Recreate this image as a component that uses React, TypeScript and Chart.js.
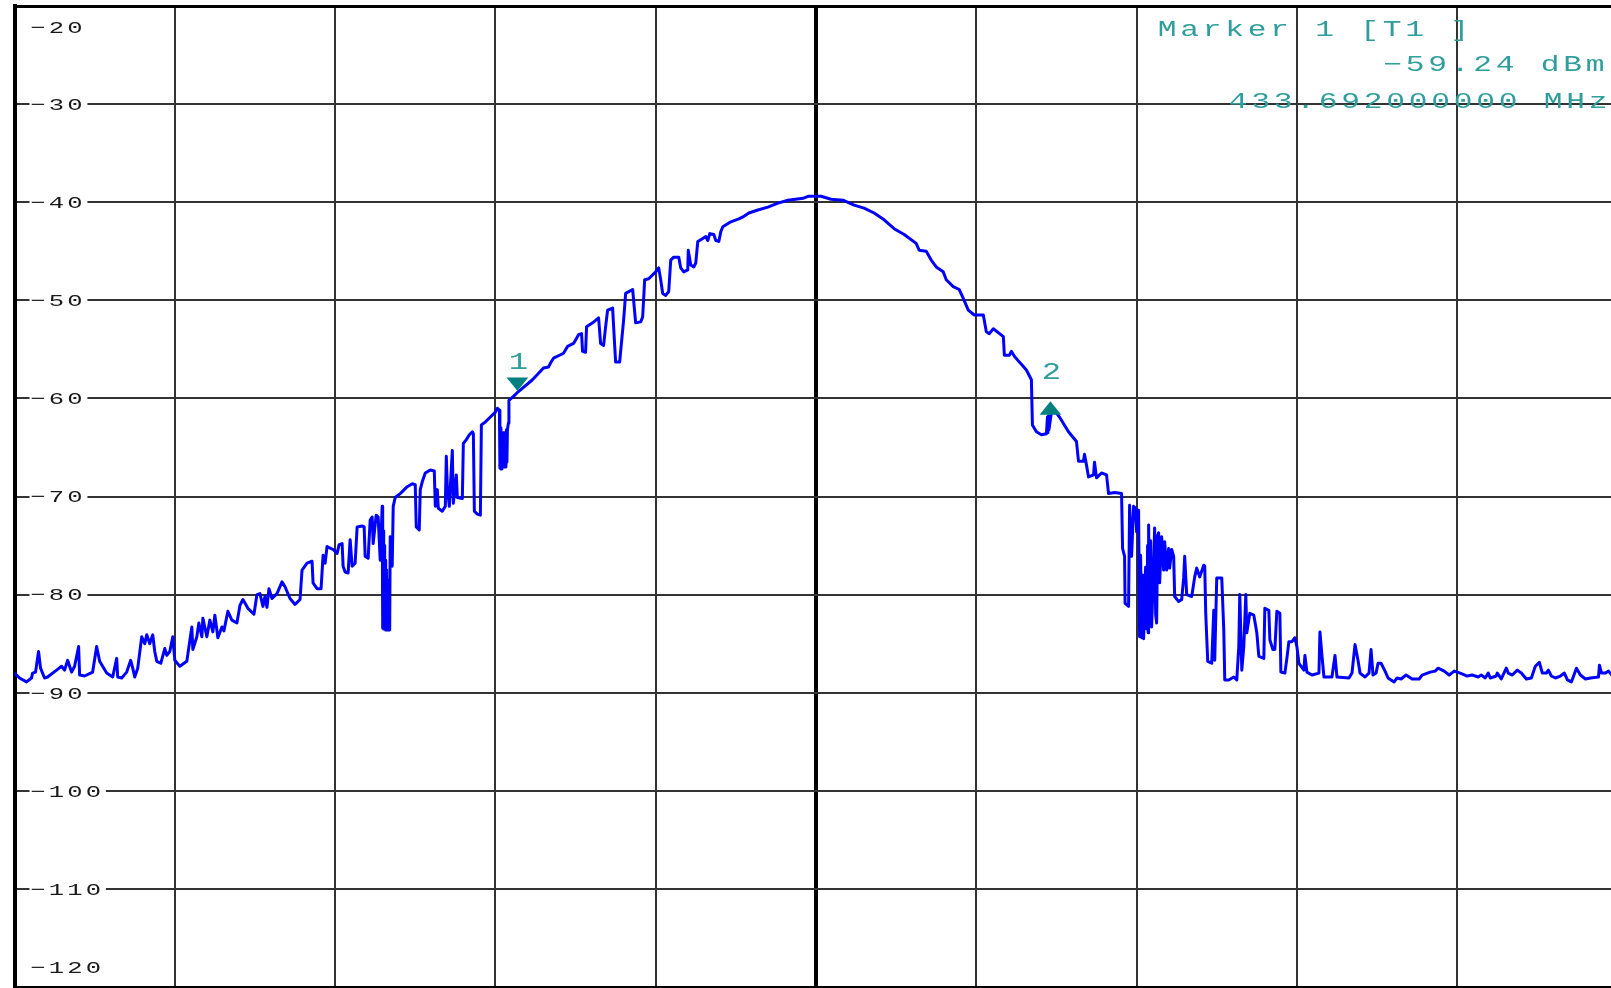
import { useEffect, useRef } from 'react';
import { Chart, registerables } from 'chart.js';

Chart.register(...registerables);

// ---- sweep settings ----
const CENTER_MHZ = 433.99;
const SPAN_KHZ = 1600;
const DIV_KHZ = 160;
const REF_LEVEL_DBM = -20;
const BOTTOM_LEVEL_DBM = -120;
const LEVEL_STEP_DB = 10;
const LEVEL_TICKS = [-20, -30, -40, -50, -60, -70, -80, -90, -100, -110, -120];

// ---- trace: [offset from centre in kHz, level in dBm] ----
const traceNoiseLeft: [number, number][] = [
  [-800, -88.0], [-795, -88.5], [-788, -88.9], [-783, -88.5], [-782, -88.0], [-779, -87.9], [-776, -85.8], [-774, -87.5],
  [-770, -88.5], [-767, -88.4], [-758, -87.7], [-753, -87.3], [-750, -87.7], [-747, -86.7], [-743, -87.9], [-740, -87.3],
  [-736, -85.3], [-735, -88.2], [-730, -88.3], [-722, -87.9], [-718, -85.3], [-715, -86.8], [-708, -88.0], [-702, -88.4],
  [-698, -86.5], [-697, -88.4], [-693, -88.5], [-688, -87.9], [-684, -86.7], [-682, -87.5], [-680, -88.4], [-677, -87.5],
  [-673, -84.3], [-670, -85.0], [-668, -84.1], [-665, -85.0], [-662, -84.1], [-660, -85.8], [-658, -86.8], [-654, -87.0],
  [-650, -85.5], [-648, -86.2], [-645, -85.8], [-642, -84.3], [-640, -86.7], [-635, -87.3], [-628, -86.8], [-623, -83.3],
  [-622, -85.6], [-618, -84.3], [-616, -82.9], [-613, -84.3], [-612, -82.4], [-608, -84.3], [-605, -82.6], [-602, -83.8],
  [-600, -82.1], [-597, -84.4], [-593, -83.3], [-591, -83.7], [-587, -81.7], [-583, -82.6], [-578, -82.9], [-575, -81.1],
  [-572, -80.5], [-567, -81.4], [-561, -82.0], [-558, -80.0], [-555, -79.9], [-552, -81.2], [-550, -80.2], [-548, -81.3],
  [-546, -79.4], [-543, -80.4], [-538, -79.9], [-533, -78.7], [-530, -79.2], [-525, -80.4], [-520, -81.0], [-515, -80.5],
];

const traceRisingEdge: [number, number][] = [
  [-513, -77.5], [-508, -76.8], [-503, -76.6], [-502, -78.8], [-498, -79.4], [-494, -79.4], [-492, -76.0], [-490, -76.8],
  [-488, -75.1], [-482, -75.4], [-478, -75.8], [-476, -74.9], [-473, -74.8], [-472, -77.1], [-470, -77.7], [-467, -77.8],
  [-465, -74.4], [-463, -77.1], [-460, -76.8], [-458, -73.1], [-453, -73.0], [-451, -73.1], [-450, -76.1], [-447, -76.3],
  [-445, -72.4], [-443, -72.1], [-442, -74.8], [-439, -71.9], [-437, -72.1], [-435, -76.5], [-433, -71.0], [-432.5, -83.4],
  [-432, -73.5], [-431.5, -83.5], [-431, -75.0], [-430.5, -83.5], [-430, -76.5], [-429.5, -83.6], [-429, -77.5],
  [-428.5, -83.6], [-428, -78.5], [-427.5, -83.6], [-427, -79.5], [-426.5, -83.6], [-426, -80.0], [-425.5, -83.6],
  [-425, -74.1], [-423, -77.1],
  [-422, -71.0], [-420, -70.1], [-415, -69.7], [-408, -69.0], [-403, -68.7], [-400, -68.8], [-399, -73.1], [-396, -73.4],
  [-395, -69.3], [-393, -68.5], [-390, -67.6], [-385, -67.3], [-381, -67.4], [-380, -71.0], [-378, -69.3], [-377, -71.2],
  [-373, -71.5], [-370, -71.0], [-369, -65.9], [-368, -69.0], [-366, -71.0], [-363, -65.3], [-362, -70.7], [-359, -67.8],
  [-358, -70.1], [-353, -70.2], [-352, -64.6], [-349, -64.2], [-346, -63.7], [-343, -63.4], [-342, -63.6], [-341, -71.5],
  [-338, -71.8], [-335, -71.9], [-334, -62.7], [-330, -62.4], [-325, -61.9], [-320, -61.4], [-318, -61.0], [-316, -61.2],
  [-315.5, -67.1], [-315, -63.0], [-314.5, -67.2], [-314, -63.5], [-313.5, -67.2], [-313, -63.9], [-312.5, -67.0],
  [-312, -63.5], [-311.5, -67.0], [-311, -63.5], [-310.5, -67.0], [-310, -63.5], [-309.5, -67.0], [-309, -63.2],
  [-308.5, -66.5], [-308, -63.2], [-307, -62.5], [-306.5, -60.2], [-302, -59.8], [-297, -59.3],
];

const tracePeak: [number, number][] = [
  [-283, -58.1], [-272, -56.9], [-267, -56.8], [-265, -56.4], [-262, -55.9], [-256, -55.6], [-252, -55.4], [-248, -54.7],
  [-242, -54.4], [-237, -53.5], [-234, -53.4], [-233, -55.2], [-230, -55.3], [-229, -52.7], [-223, -52.3], [-217, -51.8],
  [-215, -54.4], [-212, -54.6], [-210, -52.7], [-208, -51.0], [-203, -50.8], [-202, -52.7], [-200, -56.3], [-196, -56.3],
  [-192, -52.0], [-190, -49.3], [-183, -48.9], [-180, -52.3], [-175, -52.2], [-173, -51.7], [-171, -47.9], [-167, -47.8],
  [-160, -47.1], [-157, -46.7], [-155, -47.9], [-153, -49.3], [-150, -49.5], [-147, -49.1], [-145, -45.9], [-142, -45.6],
  [-137, -45.6], [-135, -46.7], [-132, -47.1], [-128, -46.9], [-127.5, -44.9], [-125, -46.4], [-122, -46.6], [-120, -46.2],
  [-118, -44.0], [-113, -43.7], [-110, -43.5], [-108, -43.9], [-106, -43.2], [-102, -43.3], [-100, -43.9], [-97, -44.0],
  [-95, -43.0], [-93, -42.5], [-85, -42.0], [-77, -41.7], [-73, -41.5], [-67, -41.1], [-58, -40.8], [-48, -40.5],
  [-38, -40.1], [-28, -39.8], [-13, -39.6], [-8, -39.4], [5, -39.4], [15, -39.7], [27, -39.8], [38, -40.3],
  [48, -40.6], [58, -41.1], [68, -41.8], [78, -42.7], [88, -43.3], [100, -44.2], [103, -44.9], [110, -45.0],
  [115, -45.9], [120, -46.6], [127, -47.1], [130, -47.9], [137, -48.6], [143, -48.9], [147, -49.8], [152, -51.0],
  [158, -51.5], [167, -51.5], [170, -53.2], [173, -53.4], [177, -52.9], [187, -53.7], [188, -55.6], [193, -55.6],
  [195, -55.2], [198, -55.7], [203, -56.3], [210, -57.1], [215, -58.1], [216, -62.7], [220, -63.4], [225, -63.7],
  [230, -63.6], [231, -61.9], [231.5, -63.5], [232, -61.8], [232.5, -63.2], [235, -61.4], [240, -61.5], [243, -61.9],
  [252, -63.4], [260, -64.4], [262, -66.4],
  [267, -66.4], [268, -65.7], [270, -66.8], [272, -68.0], [277, -67.8], [278, -66.5], [280, -68.1], [285, -67.6],
  [290, -67.8], [292, -69.7], [298, -69.6], [305, -69.7],
];

const traceFallingSpurs: [number, number][] = [
  [306, -75.3], [308, -76.1], [308.5, -80.9], [312, -81.2], [313, -70.9], [315, -76.1], [317, -71.0], [319, -71.2],
  [320, -73.6], [322, -71.4], [323, -84.3], [324, -76.0], [325, -84.4], [326, -78.0], [327, -84.5], [329, -77.2],
  [330, -83.5], [331, -75.0], [331.5, -83.9], [332, -72.9], [333, -83.0], [334, -74.5], [335, -83.3],
  [337, -77.1], [338, -73.2], [339, -82.0], [340, -82.9], [341, -74.0], [342, -73.7], [343, -78.8], [345, -74.1], [347, -77.5], [348, -74.6],
  [350, -77.5], [352, -75.3], [353, -77.3], [355, -75.4], [357, -76.1], [358, -80.2], [362, -80.7], [365, -80.5],
  [367, -78.3], [368, -76.1], [370, -80.0], [375, -80.2], [378, -78.2], [380, -77.3], [383, -78.2], [387, -77.0],
  [388, -77.1], [389, -81.9], [391, -86.8], [395, -87.0], [397, -81.6], [398, -86.7], [400, -78.3], [405, -78.3],
  [407, -83.6], [408, -88.7], [412, -88.7], [417, -88.4], [420, -88.7], [422, -85.3], [423, -80.0], [425, -87.7],
  [427, -85.3], [429, -80.0], [430, -83.9], [433, -81.9], [437, -82.1], [440, -83.9], [442, -86.3], [447, -86.5],
  [448, -81.4], [452, -81.6], [453, -84.6], [456, -85.6], [458, -85.6], [460, -81.7], [463, -81.9], [464, -87.9],
  [468, -88.0], [470, -86.5], [472, -84.8], [475, -84.8], [478, -84.4], [480, -85.3], [482, -87.0], [487, -87.7],
  [488, -86.2], [490, -87.9], [495, -88.2], [502, -88.0], [503, -83.8], [505, -86.2], [507, -88.4], [515, -88.4],
  [518, -86.2], [520, -88.4],
];

const traceNoiseRight: [number, number][] = [
  [532, -88.5], [535, -88.0], [538, -85.1], [541, -86.7], [543, -88.0], [548, -88.4], [552, -88.0], [554, -85.6],
  [556, -88.2], [559, -88.0], [561, -87.0], [564, -87.0], [568, -87.8], [571, -88.5], [577, -88.9], [580, -88.5],
  [584, -88.6], [589, -88.2], [595, -88.6], [602, -88.6], [605, -88.2], [613, -87.9], [618, -87.8], [621, -87.5],
  [627, -87.8], [632, -88.2], [637, -87.8], [643, -88.0], [650, -88.3], [655, -88.2], [661, -88.4], [664, -88.2],
  [668, -88.5], [671, -88.0], [673, -88.5], [679, -88.3], [680, -88.0], [684, -88.6], [689, -87.5], [691, -88.0],
  [695, -88.2], [700, -87.7], [704, -88.0], [709, -88.6], [714, -88.5], [718, -87.3], [722, -86.9], [725, -88.0],
  [729, -88.0], [731, -87.7], [734, -88.3], [738, -88.5], [743, -88.3], [747, -88.0], [750, -88.7], [754, -88.9],
  [759, -87.5], [763, -88.2], [768, -88.6], [773, -88.5], [781, -88.4], [782, -87.2], [784, -88.0], [788, -88.0],
  [791, -87.8], [796, -88.4], [800, -88.3],
];

// ---- markers ----
const markerNames = ['1', '2'];
const markerFreqMHz = [433.692, 434.224];
const markerLevelDbm = [-59.24, -60.3];
const markerPointing = ['down', 'up'];
const markerReadout = ['Marker 1 [T1 ]', '-59.24 dBm', '433.692000000 MHz'];

const TRACE_COLOR = '#0000ff';
const MARKER_FILL = '#008080';
const MARKER_TEXT = '#2f9e9c';
const GRID_COLOR = '#333333';
const LABEL_COLOR = '#1a1a1a';
const MONO = '"Liberation Mono", "DejaVu Sans Mono", monospace';

function drawMono(
  ctx: CanvasRenderingContext2D,
  text: string,
  firstCenterX: number,
  baselineY: number,
  pitch: number,
  scaleX: number,
) {
  for (let i = 0; i < text.length; i++) {
    const c = text[i];
    if (c === ' ') continue;
    const ch = c === '-' ? '\u2212' : c;
    ctx.save();
    ctx.translate(firstCenterX + i * pitch, baselineY);
    ctx.scale(scaleX, 1);
    ctx.fillText(ch, 0, 0);
    ctx.restore();
  }
}

const levelLabelsPlugin = {
  id: 'levelLabels',
  beforeDatasetsDraw(chart: any) {
    const ctx: CanvasRenderingContext2D = chart.ctx;
    const y = chart.scales.y;
    const left = chart.chartArea.left;
    const pitch = 18.5;
    const firstCenter = left + 23.4;
    ctx.save();
    ctx.font = `17px ${MONO}`;
    ctx.textAlign = 'center';
    ctx.textBaseline = 'alphabetic';
    LEVEL_TICKS.forEach((v) => {
      const py = y.getPixelForValue(v);
      const text = String(v);
      let baseline: number;
      if (v === REF_LEVEL_DBM) {
        baseline = py + 27.3;
      } else if (v === BOTTOM_LEVEL_DBM) {
        baseline = py - 13.7;
      } else {
        baseline = py + 5.8;
        const x0 = left + 15;
        const x1 = firstCenter + (text.length - 1) * pitch + 12.5;
        ctx.fillStyle = '#ffffff';
        ctx.fillRect(x0, py - 7, x1 - x0, 14);
      }
      ctx.fillStyle = LABEL_COLOR;
      drawMono(ctx, text, firstCenter, baseline, pitch, 1.5);
    });
    ctx.restore();
  },
};

const markersPlugin = {
  id: 'markers',
  afterDatasetsDraw(chart: any) {
    const ctx: CanvasRenderingContext2D = chart.ctx;
    const xs = chart.scales.x;
    const ys = chart.scales.y;
    ctx.save();
    markerNames.forEach((name, i) => {
      const px = xs.getPixelForValue((markerFreqMHz[i] - CENTER_MHZ) * 1000);
      const py = ys.getPixelForValue(markerLevelDbm[i]);
      const dir = markerPointing[i] === 'down' ? -1 : 1;
      ctx.fillStyle = MARKER_FILL;
      ctx.beginPath();
      ctx.moveTo(px, py);
      ctx.lineTo(px - 10.8, py + dir * 13.4);
      ctx.lineTo(px + 10.8, py + dir * 13.4);
      ctx.closePath();
      ctx.fill();
      ctx.fillStyle = MARKER_TEXT;
      ctx.font = `23px ${MONO}`;
      ctx.textAlign = 'center';
      ctx.textBaseline = 'alphabetic';
      drawMono(ctx, name, px + 1, py - 22, 22, 1.4);
    });

    // marker readout, top right
    const top = chart.chartArea.top;
    ctx.fillStyle = MARKER_TEXT;
    ctx.font = `22px ${MONO}`;
    ctx.textAlign = 'center';
    const rowCenters = [1167, 1392.5, 1238];
    const rowBaselines = [top + 30, top + 64.5, top + 101.5];
    markerReadout.forEach((row, r) => {
      drawMono(ctx, row, rowCenters[r], rowBaselines[r], 22.5, 1.42);
    });
    ctx.restore();
  },
};

export default function App() {
  const canvasRef = useRef<HTMLCanvasElement>(null);

  useEffect(() => {
    const canvas = canvasRef.current;
    if (!canvas) return;
    const all = [
      ...traceNoiseLeft,
      ...traceRisingEdge,
      ...tracePeak,
      ...traceFallingSpurs,
      ...traceNoiseRight,
    ];
    const data = all.map(([k, l]) => ({ x: k, y: l }));

    const chart = new Chart(canvas, {
      type: 'line',
      data: {
        datasets: [
          {
            data,
            borderColor: TRACE_COLOR,
            borderWidth: 3,
            borderJoinStyle: 'round',
            pointRadius: 0,
            tension: 0,
            fill: false,
          },
        ],
      },
      options: {
        animation: false,
        responsive: true,
        maintainAspectRatio: false,
        events: [],
        layout: { padding: { left: 14.5, right: 22.5, top: 6, bottom: 1 } },
        plugins: {
          legend: { display: false },
          tooltip: { enabled: false },
        },
        scales: {
          x: {
            type: 'linear',
            min: -SPAN_KHZ / 2,
            max: SPAN_KHZ / 2,
            ticks: { display: false, stepSize: DIV_KHZ },
            grid: {
              drawTicks: false,
              color: (c: any) => (c.tick && c.tick.value === 0 ? '#000000' : GRID_COLOR),
              lineWidth: (c: any) => {
                const v = c.tick ? c.tick.value : 1;
                if (v === 0) return 4;
                if (v === -SPAN_KHZ / 2 || v === SPAN_KHZ / 2) return 0;
                return 2;
              },
            },
            border: { display: false },
            afterFit: (s: any) => {
              s.height = 0;
            },
          },
          y: {
            type: 'linear',
            min: BOTTOM_LEVEL_DBM,
            max: REF_LEVEL_DBM,
            ticks: { display: false, stepSize: LEVEL_STEP_DB },
            grid: {
              drawTicks: false,
              color: (c: any) => {
                const v = c.tick ? c.tick.value : 0;
                return v === REF_LEVEL_DBM || v === BOTTOM_LEVEL_DBM ? '#000000' : GRID_COLOR;
              },
              lineWidth: (c: any) => {
                const v = c.tick ? c.tick.value : 0;
                return v === REF_LEVEL_DBM || v === BOTTOM_LEVEL_DBM ? 3 : 2;
              },
            },
            border: { display: true, color: '#000000', width: 4 },
            afterFit: (s: any) => {
              s.width = 0;
            },
          },
        },
      },
      plugins: [levelLabelsPlugin, markersPlugin],
    } as any);

    return () => chart.destroy();
  }, []);

  return (
    <div
      style={{
        position: 'fixed',
        left: 0,
        top: 0,
        width: 1611,
        height: 988,
        overflow: 'hidden',
        background: '#ffffff',
      }}
    >
      <div style={{ position: 'relative', width: 1640, height: 988 }}>
        <canvas ref={canvasRef} />
      </div>
    </div>
  );
}
